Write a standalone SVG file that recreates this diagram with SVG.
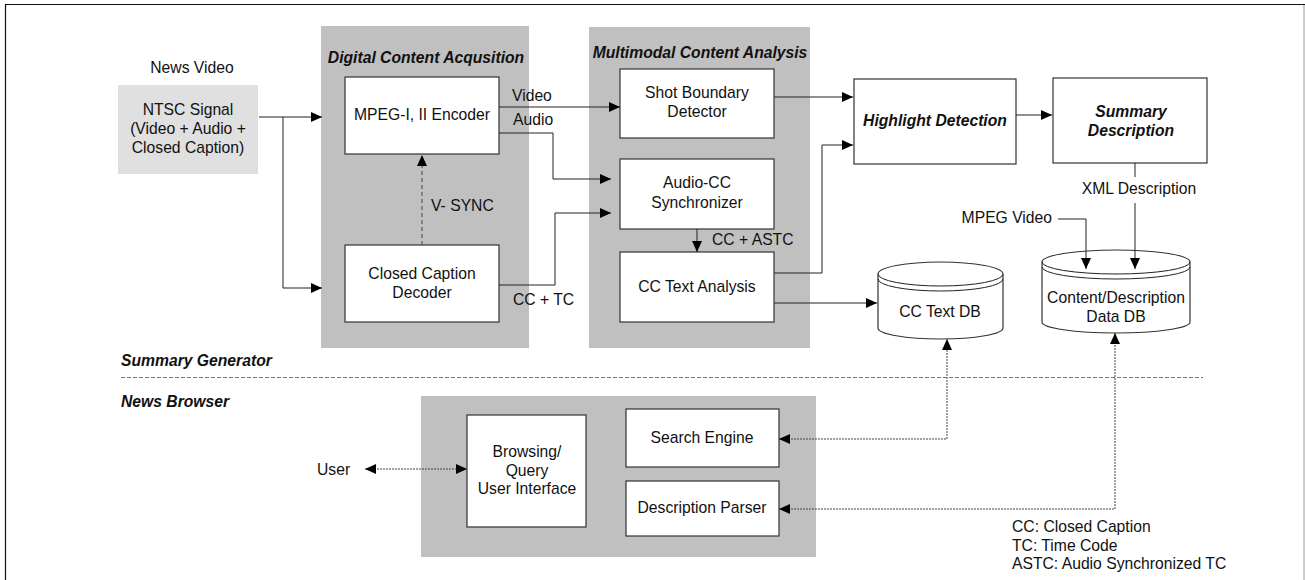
<svg xmlns="http://www.w3.org/2000/svg" width="1305" height="580" viewBox="0 0 1305 580">
<style>
text{font-family:"Liberation Sans",Arial,sans-serif;font-size:15.7px;fill:#111}
.c{text-anchor:middle}
.bi{font-weight:bold;font-style:italic}
.panel{fill:#c0c0c0;stroke:none}
.box{fill:#fff;stroke:#333;stroke-width:1.2}
.ln{fill:none;stroke:#222;stroke-width:1}
.dash{fill:none;stroke:#444;stroke-width:1;stroke-dasharray:4,3}
.dot{fill:none;stroke:#444;stroke-width:1;stroke-dasharray:2,1}
.sep{fill:none;stroke:#777;stroke-width:1;stroke-dasharray:4,2}
</style>
<defs>
<marker id="ah" viewBox="0 0 11 10" refX="11" refY="5" markerWidth="11" markerHeight="10" markerUnits="userSpaceOnUse" orient="auto-start-reverse"><path d="M0,0 L11,5 L0,10 z" fill="#000"/></marker>
</defs>
<rect width="1305" height="580" fill="#fff"/>
<g id="frame">
<line x1="5.5" y1="4.5" x2="1305" y2="4.5" stroke="#111" stroke-width="1.2"/>
<line x1="5.5" y1="4" x2="5.5" y2="580" stroke="#111" stroke-width="1.2"/>
<line x1="1304" y1="5" x2="1304" y2="580" stroke="#999" stroke-width="1"/>
</g>
<g id="panels">
<rect id="dca-panel" class="panel" x="321" y="26" width="208" height="322"/>
<rect id="mca-panel" class="panel" x="589" y="27" width="221" height="321"/>
<rect id="browser-panel" class="panel" x="421" y="396" width="395" height="161"/>
</g>
<g id="labels">
<text x="192" y="73" class="c">News Video</text>
<text x="426" y="63" class="c bi">Digital Content Acqusition</text>
<text x="700" y="58" class="c bi">Multimodal Content Analysis</text>
<text x="121" y="366" class="bi">Summary Generator</text>
<text x="121" y="407" class="bi">News Browser</text>
<text x="317" y="475">User</text>
<text x="512" y="101">Video</text>
<text x="513" y="125">Audio</text>
<text x="513" y="305">CC + TC</text>
<text x="431" y="211">V- SYNC</text>
<text x="712" y="245">CC + ASTC</text>
<text x="1139" y="194" class="c">XML Description</text>
<text x="1052" y="223" text-anchor="end">MPEG Video</text>
<text x="1012" y="532">CC: Closed Caption</text>
<text x="1012" y="551">TC: Time Code</text>
<text x="1012" y="569">ASTC: Audio Synchronized TC</text>
</g>
<g id="ntsc">
<rect x="118" y="85" width="140" height="89" fill="#e0e0e0"/>
<text x="188" y="115" class="c">NTSC Signal</text>
<text x="188" y="134" class="c">(Video + Audio +</text>
<text x="188" y="153" class="c">Closed Caption)</text>
</g>
<g id="mpeg-encoder">
<rect class="box" x="345" y="77" width="154" height="77"/>
<text x="422" y="120" class="c">MPEG-I, II Encoder</text>
</g>
<g id="cc-decoder">
<rect class="box" x="345" y="245" width="154" height="77"/>
<text x="422" y="279" class="c">Closed Caption</text>
<text x="422" y="298" class="c">Decoder</text>
</g>
<g id="shot-boundary">
<rect class="box" x="620" y="69" width="154" height="69"/>
<text x="697" y="98" class="c">Shot Boundary</text>
<text x="697" y="117" class="c">Detector</text>
</g>
<g id="audio-cc">
<rect class="box" x="620" y="159" width="154" height="70"/>
<text x="697" y="188" class="c">Audio-CC</text>
<text x="697" y="208" class="c">Synchronizer</text>
</g>
<g id="cc-text-analysis">
<rect class="box" x="620" y="252" width="154" height="70"/>
<text x="697" y="292" class="c">CC Text Analysis</text>
</g>
<g id="highlight">
<rect class="box" x="854" y="79" width="162" height="85"/>
<text x="935" y="126" class="c bi">Highlight Detection</text>
</g>
<g id="summary">
<rect class="box" x="1053" y="78" width="154" height="85"/>
<text x="1131" y="117" class="c bi">Summary</text>
<text x="1131" y="136" class="c bi">Description</text>
</g>
<g id="cc-text-db">
<path class="box" d="M878,274 A62.5,12 0 0 1 1003,274 V328 A62.5,11 0 0 1 878,328 Z"/>
<path class="ln" d="M878,274 A62.5,12 0 0 0 1003,274 M878,279 A62.5,12 0 0 0 1003,279"/>
<text x="940" y="317" class="c">CC Text DB</text>
</g>
<g id="content-db">
<path class="box" d="M1042,262 A74,12 0 0 1 1190,262 V322 A74,11 0 0 1 1042,322 Z"/>
<path class="ln" d="M1042,262 A74,12 0 0 0 1190,262 M1042,267 A74,12 0 0 0 1190,267"/>
<text x="1116" y="303" class="c">Content/Description</text>
<text x="1116" y="322" class="c">Data DB</text>
</g>
<g id="browsing-ui">
<rect class="box" x="467" y="415" width="119" height="112"/>
<text x="527" y="457" class="c">Browsing/</text>
<text x="527" y="476" class="c">Query</text>
<text x="527" y="494" class="c">User Interface</text>
</g>
<g id="search-engine">
<rect class="box" x="626" y="409" width="153" height="58"/>
<text x="702" y="443" class="c">Search Engine</text>
</g>
<g id="description-parser">
<rect class="box" x="626" y="481" width="153" height="55"/>
<text x="702" y="513" class="c">Description Parser</text>
</g>
<g id="connectors">
<path class="ln" d="M259,117 H322" marker-end="url(#ah)"/>
<path class="ln" d="M283,117 V288 H322" marker-end="url(#ah)"/>
<path class="dash" d="M422,245 V155" marker-end="url(#ah)"/>
<path class="ln" d="M499,107 H620" marker-end="url(#ah)"/>
<path class="ln" d="M499,133 H553 V179 H611" marker-end="url(#ah)"/>
<path class="ln" d="M499,285 H555 V213 H611" marker-end="url(#ah)"/>
<path class="ln" d="M697,229 V252" marker-end="url(#ah)"/>
<path class="ln" d="M774,97 H853" marker-end="url(#ah)"/>
<path class="ln" d="M774,273 H822 V145 H853" marker-end="url(#ah)"/>
<path class="ln" d="M774,303 H877" marker-end="url(#ah)"/>
<path class="ln" d="M1016,115 H1052" marker-end="url(#ah)"/>
<path class="ln" d="M1135,163 V177"/>
<path class="ln" d="M1135,203 V269" marker-end="url(#ah)"/>
<path class="ln" d="M1058,219 H1086 V269" marker-end="url(#ah)"/>
<path class="sep" d="M121,377.5 H1203"/>
<path class="dot" d="M779,439 H947 V339" marker-start="url(#ah)" marker-end="url(#ah)"/>
<path class="dot" d="M779,509 H1115 V333" marker-start="url(#ah)" marker-end="url(#ah)"/>
<path class="dot" d="M365,469 H467" marker-start="url(#ah)" marker-end="url(#ah)"/>
</g>
</svg>
